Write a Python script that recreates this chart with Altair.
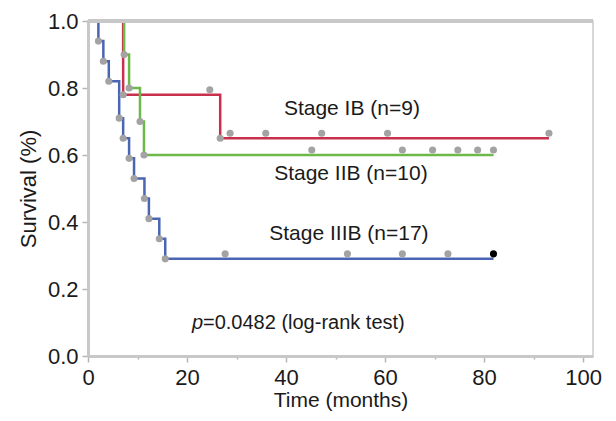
import altair as alt
import pandas as pd

# ---- data ----
groups = ["Stage IB", "Stage IIB", "Stage IIIB"]
colors = ["#c8304c", "#6db84a", "#4a66b3"]

ib_event_t = [7.1, 26.7]
ib_event_s = [0.78, 0.65]
ib_cens_t = [24.6, 28.7, 35.9, 47.2, 60.5, 93.1]
ib_cens_s = [0.78, 0.65, 0.65, 0.65, 0.65, 0.65]

iib_event_t = [7.3, 8.3, 10.5, 11.3]
iib_event_s = [0.90, 0.80, 0.70, 0.60]
iib_cens_t = [45.2, 63.5, 69.6, 74.7, 78.7, 81.9]
iib_cens_s = [0.60, 0.60, 0.60, 0.60, 0.60, 0.60]

iiib_event_t = [2.1, 3.1, 4.2, 6.3, 7.1, 8.3, 9.3, 11.4, 12.3, 14.4, 15.6]
iiib_event_s = [0.94, 0.88, 0.82, 0.71, 0.65, 0.59, 0.53, 0.47, 0.41, 0.35, 0.29]
iiib_cens_t = [27.7, 52.4, 63.5, 72.7]
iiib_cens_s = [0.29, 0.29, 0.29, 0.29]
iiib_last_t = [81.9]
iiib_last_s = [0.29]

label_text = ["Stage IB (n=9)", "Stage IIB (n=10)", "Stage IIIB (n=17)"]
label_x = [53.3, 53.1, 52.7]
label_y = [0.738, 0.543, 0.365]

p_x = [21.0]
p_y = [0.10]
p_text = ["=0.0482 (log-rank test)"]

x_ticks = [0, 10, 20, 30, 40, 50, 60, 70, 80, 90, 100]
y_ticks = [0.0, 0.1, 0.2, 0.3, 0.4, 0.5, 0.6, 0.7, 0.8, 0.9, 1.0]

# ---- tables ----
series = {
    "Stage IB": (ib_event_t, ib_event_s, ib_cens_t, ib_cens_s),
    "Stage IIB": (iib_event_t, iib_event_s, iib_cens_t, iib_cens_s),
    "Stage IIIB": (iiib_event_t, iiib_event_s, iiib_cens_t + iiib_last_t, iiib_cens_s + iiib_last_s),
}
line_rows, event_rows, cens_rows = [], [], []
for g, (et, es, ct, cs) in series.items():
    pts = [(0.0, 1.0)] + list(zip(et, es)) + [(max(ct), es[-1])]
    for i, (t, s) in enumerate(pts):
        line_rows.append({"group": g, "t": t, "s": s, "o": i})
    for t, s in zip(et, es):
        event_rows.append({"group": g, "t": t, "s": s})
for g, ct, cs in [("Stage IB", ib_cens_t, ib_cens_s), ("Stage IIB", iib_cens_t, iib_cens_s),
                  ("Stage IIIB", iiib_cens_t, iiib_cens_s)]:
    for t, s in zip(ct, cs):
        cens_rows.append({"group": g, "t": t, "s": s})

lines_df = pd.DataFrame(line_rows)
events_df = pd.DataFrame(event_rows)
cens_df = pd.DataFrame(cens_rows)
last_df = pd.DataFrame({"t": iiib_last_t, "s": iiib_last_s})
labels_df = pd.DataFrame({"text": label_text, "t": label_x, "s": label_y})
p_df = pd.DataFrame({"t": p_x, "s": p_y, "text": p_text})

FONT = "Liberation Sans"
xscale = alt.Scale(domain=[0, 102], nice=False, zero=False)
yscale = alt.Scale(domain=[0, 1], nice=False)

xaxis = alt.Axis(
    values=x_ticks, title="Time (months)", grid=False,
    labelExpr="datum.value % 20 == 0 ? datum.label : ''",
    tickSize={"condition": {"test": "datum.value % 20 != 0", "value": 3}, "value": 6},
    labelFlush=False, labelPadding=5, titlePadding=1, titleFontSize=21,
)
yaxis = alt.Axis(
    values=y_ticks, title="Survival (%)", grid=False, format=".1f",
    labelExpr="round(datum.value * 10) % 2 == 0 ? datum.label : ''",
    tickSize={"condition": {"test": "round(datum.value * 10) % 2 == 1", "value": 3}, "value": 6},
    labelFlush=False, labelPadding=4, titlePadding=7,
)

X = alt.X("t:Q", scale=xscale, axis=xaxis)
Y = alt.Y("s:Q", scale=yscale, axis=yaxis)

color = alt.Color("group:N", scale=alt.Scale(domain=groups, range=colors), legend=None)

lines = alt.Chart(lines_df).mark_line(interpolate="step-after", strokeWidth=2.5).encode(
    x=X, y=Y, color=color, detail="group:N", order="o:Q"
)
ev = alt.Chart(events_df).mark_circle(size=50, color="#a3a3a3", opacity=1).encode(
    x="t:Q", y="s:Q"
)
ce = alt.Chart(cens_df).mark_circle(size=50, color="#a3a3a3", opacity=1, yOffset=-5).encode(
    x="t:Q", y="s:Q"
)
last = alt.Chart(last_df).mark_circle(size=50, color="#000000", opacity=1, yOffset=-5).encode(
    x="t:Q", y="s:Q"
)
top_rule = alt.Chart(lines_df).mark_rule(color="#c8c8c8", strokeWidth=3).encode(
    x=alt.value(0), x2=alt.value(505), y=alt.value(0)
)
labels = alt.Chart(labels_df).mark_text(
    align="center", baseline="middle", font=FONT, fontSize=21, color="#1a1a1a"
).encode(x="t:Q", y="s:Q", text="text:N")
p_italic = alt.Chart(p_df).mark_text(
    align="left", baseline="middle", font=FONT, fontSize=20, fontStyle="italic", color="#1a1a1a"
).encode(x="t:Q", y="s:Q", text=alt.value("p"))
p_rest = alt.Chart(p_df).mark_text(
    align="left", baseline="middle", font=FONT, fontSize=20, color="#1a1a1a", dx=11
).encode(x="t:Q", y="s:Q", text="text:N")

chart = alt.layer(lines, ev, ce, last, top_rule, labels, p_italic, p_rest).properties(
    width=505, height=335,
    autosize=alt.AutoSizeParams(type="none"),
    padding={"left": 80, "top": 13, "right": 15, "bottom": 57},
).configure_view(
    stroke="#cccccc", strokeWidth=1.5
).configure_axis(
    labelFont=FONT, titleFont=FONT, labelFontSize=22, titleFontSize=22,
    titleFontWeight="normal", labelColor="#1a1a1a", titleColor="#1a1a1a",
    domainColor="#c8c8c8", domainWidth=3, tickColor="#b5b5b5", tickWidth=1.5,
)

chart.save("out.html", embed_options={"renderer": "svg", "actions": False})
